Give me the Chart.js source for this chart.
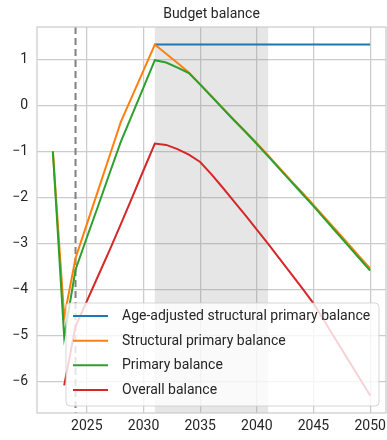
<!DOCTYPE html>
<html><head><meta charset="utf-8">
<script src="https://cdn.jsdelivr.net/npm/chart.js@4/dist/chart.umd.min.js"></script>
<style>html,body{margin:0;padding:0;background:#fff}#wrap{width:387px;height:440px}</style>
</head><body><div id="wrap"><canvas id="c" width="387" height="440"></canvas></div>
<script>
const years = [2022,2023,2024,2025,2026,2027,2028,2029,2030,2031,2032,2033,2034,2035,2036,2037,2038,2039,2040,2041,2042,2043,2044,2045,2046,2047,2048,2049,2050];
const ageAdjusted = [null,null,null,null,null,null,null,null,null,1.32,1.32,1.32,1.32,1.32,1.32,1.32,1.32,1.32,1.32,1.32,1.32,1.32,1.32,1.32,1.32,1.32,1.32,1.32,1.32];
const structuralPrimary = [-1.0,-4.6,-3.32,-2.58,-1.84,-1.10,-0.36,0.20,0.76,1.32,1.12,0.92,0.71,0.46,0.20,-0.06,-0.32,-0.57,-0.82,-1.09,-1.36,-1.63,-1.89,-2.16,-2.44,-2.71,-2.99,-3.27,-3.54];
const primary = [-1.0,-5.03,-3.57,-2.87,-2.18,-1.48,-0.79,-0.20,0.39,0.98,0.93,0.82,0.70,0.45,0.19,-0.07,-0.33,-0.58,-0.84,-1.11,-1.38,-1.65,-1.92,-2.19,-2.47,-2.75,-3.03,-3.31,-3.59];
const overall = [null,-6.08,-4.8,-4.25,-3.7,-3.15,-2.58,-2.0,-1.41,-0.83,-0.86,-0.95,-1.07,-1.23,-1.5,-1.79,-2.09,-2.39,-2.70,-3.01,-3.33,-3.65,-3.97,-4.3,-4.7,-5.1,-5.5,-5.9,-6.3];
const seriesLabels = ['Age-adjusted structural primary balance','Structural primary balance','Primary balance','Overall balance'];
const seriesColors = ['#1f77b4','#ff7f0e','#2ca02c','#d62728'];
const xTicks = [2025,2030,2035,2040,2045,2050];
const yTicks = [-6,-5,-4,-3,-2,-1,0,1];
const shadeRange = [2031,2041];
const markerYear = 2024;
const titleText = 'Budget balance';

const FONT = 'Roboto, "DejaVu Sans", sans-serif';
const TXT = '#262626';

function pts(vals){ return years.map((y,i)=>({x:y,y:vals[i]})); }
const allVals = [ageAdjusted,structuralPrimary,primary,overall];
const datasets = allVals.map((v,i)=>({
  label: seriesLabels[i], data: pts(v), borderColor: seriesColors[i], backgroundColor: seriesColors[i],
  borderWidth: 2, pointRadius: 0, showLine: true, fill: false, tension: 0, spanGaps: false,
  order: 4 - i
}));

const bgPlugin = {
  id: 'bg',
  beforeDatasetsDraw(chart){
    const {ctx, chartArea:a, scales:{x}} = chart;
    ctx.save();
    const x0 = x.getPixelForValue(shadeRange[0]), x1 = x.getPixelForValue(shadeRange[1]);
    ctx.fillStyle = 'rgba(128,128,128,0.2)';
    ctx.fillRect(x0, a.top, x1 - x0, a.bottom - a.top);
    const xm = x.getPixelForValue(markerYear);
    ctx.strokeStyle = '#808080'; ctx.lineWidth = 2; ctx.setLineDash([7,4]);
    ctx.beginPath(); ctx.moveTo(xm, a.top); ctx.lineTo(xm, a.bottom); ctx.stroke();
    ctx.restore();
  },
  afterDatasetsDraw(chart){
    const {ctx, chartArea:a} = chart;
    ctx.save();
    ctx.strokeStyle = '#cccccc'; ctx.lineWidth = 1.25; ctx.setLineDash([]);
    ctx.strokeRect(a.left, a.top, a.right - a.left, a.bottom - a.top);
    // title centred over the plot area
    ctx.font = '14px ' + FONT; ctx.fillStyle = TXT; ctx.textAlign = 'center'; ctx.textBaseline = 'middle';
    ctx.fillText(titleText, (a.left + a.right) / 2, 14);
    ctx.textAlign = 'left';
    // legend
    const bx = 66, by = 303, bw = 313, bh = 103, r = 4;
    ctx.beginPath();
    ctx.moveTo(bx + r, by); ctx.lineTo(bx + bw - r, by); ctx.quadraticCurveTo(bx + bw, by, bx + bw, by + r);
    ctx.lineTo(bx + bw, by + bh - r); ctx.quadraticCurveTo(bx + bw, by + bh, bx + bw - r, by + bh);
    ctx.lineTo(bx + r, by + bh); ctx.quadraticCurveTo(bx, by + bh, bx, by + bh - r);
    ctx.lineTo(bx, by + r); ctx.quadraticCurveTo(bx, by, bx + r, by); ctx.closePath();
    ctx.fillStyle = 'rgba(255,255,255,0.8)'; ctx.fill();
    ctx.strokeStyle = 'rgba(204,204,204,0.8)'; ctx.lineWidth = 1; ctx.stroke();
    ctx.font = '14px ' + FONT; ctx.textBaseline = 'middle'; ctx.fillStyle = TXT;
    chart.data.datasets.forEach((d,i)=>{
      const yy = 316 + i * 24.67;
      ctx.strokeStyle = d.borderColor; ctx.lineWidth = 2;
      ctx.beginPath(); ctx.moveTo(73, yy); ctx.lineTo(108, yy); ctx.stroke();
      ctx.fillStyle = TXT; ctx.fillText(d.label, 122, yy + 0.5);
    });
    ctx.restore();
  }
};

const fmtMinus = v => v < 0 ? '\u2212' + Math.abs(v) : String(v);

new Chart(document.getElementById('c'), {
  type: 'scatter',
  data: { datasets },
  options: {
    responsive: false, animation: false, devicePixelRatio: 1,
    layout: { padding: { left: 0, right: 1, top: 27, bottom: 0 } },
    plugins: {
      legend: { display: false }, tooltip: { enabled: false },
      title: { display: false }
    },
    scales: {
      x: {
        type: 'linear', min: 2020.6, max: 2051.4,
        afterBuildTicks: s => { s.ticks = xTicks.map(v=>({value:v})); },
        afterFit: s => { s.height = 27; s.paddingLeft = 0; s.paddingRight = 0; },
        grid: { color: '#cccccc', lineWidth: 1.25, drawTicks: false },
        border: { display: false },
        ticks: { color: TXT, font: { family: FONT, size: 14 }, padding: 5, maxRotation: 0, callback: v => String(v) }
      },
      y: {
        type: 'linear', min: -6.68, max: 1.70,
        afterBuildTicks: s => { s.ticks = yTicks.map(v=>({value:v})); },
        afterFit: s => { s.width = 37; s.paddingTop = 0; s.paddingBottom = 0; },
        grid: { color: '#cccccc', lineWidth: 1.25, drawTicks: false },
        border: { display: false },
        ticks: { color: TXT, font: { family: FONT, size: 14 }, padding: 9, callback: v => fmtMinus(v) }
      }
    }
  },
  plugins: [bgPlugin]
});
</script></body></html>
